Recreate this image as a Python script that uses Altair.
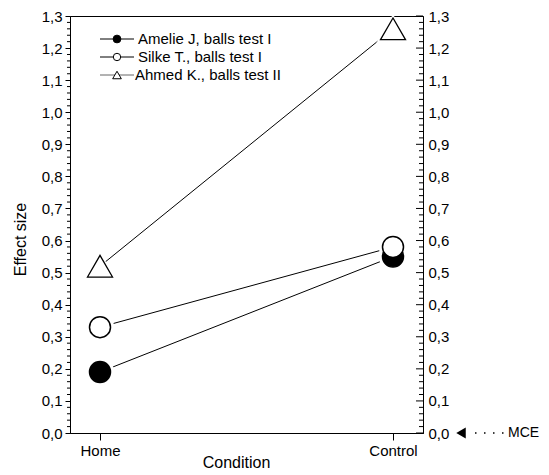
import altair as alt
import pandas as pd

# ---------------- data ----------------
conditions = ["Home", "Control"]
series_names = ["Amelie J, balls test I", "Silke T., balls test I", "Ahmed K., balls test II"]
amelie = [0.19, 0.55]
silke = [0.33, 0.58]
ahmed = [0.52, 1.26]
y_ticks = [0.0, 0.1, 0.2, 0.3, 0.4, 0.5, 0.6, 0.7, 0.8, 0.9, 1.0, 1.1, 1.2, 1.3]
minor_ticks = [round(t + k * 0.02, 2) for t in y_ticks[:-1] for k in (1, 2, 3, 4)]
mce_value = [0.0]
mce_label = ["MCE"]
x_title = "Condition"
y_title = "Effect size"

rows = []
for name, vals in zip(series_names, [amelie, silke, ahmed]):
    for c, v in zip(conditions, vals):
        rows.append({"series": name, "condition": c, "value": v})
df = pd.DataFrame(rows)

# ---------------- layout / style ----------------
W, H = 353, 417
FONT = "Liberation Sans"
LAB = 15
TIT = 16
label_expr = "replace(format(datum.value, '.1f'), '.', ',')"

yscale = alt.Scale(domain=[0, 1.3], nice=False, zero=False)
xscale = alt.Scale(type="point", domain=conditions, padding=0.1024)

x_enc = alt.X("condition:N", scale=xscale, sort=None,
              axis=alt.Axis(orient="bottom", labelAngle=0, tickSize=7, labelPadding=3,
                            labelFont=FONT, labelFontSize=LAB, title=x_title,
                            titleFont=FONT, titleFontSize=TIT, titleFontWeight="normal",
                            titleBaseline="alphabetic", titleY=34, titleX=166,
                            grid=False))

base = alt.Chart(df)

lines = base.mark_line(color="black", strokeWidth=1).encode(
    x=x_enc,
    y=alt.Y("value:Q", scale=yscale,
            axis=alt.Axis(orient="left", values=y_ticks, labelExpr=label_expr, tickSize=5,
                          labelPadding=3, labelFont=FONT, labelFontSize=LAB, title=y_title,
                          titleFont=FONT, titleFontSize=TIT, titleFontWeight="normal",
                          titlePadding=13, titleY=223, grid=False)),
    detail="series:N",
)

marker_style = {
    series_names[0]: dict(shape="circle", fill="black", size=441, halo=800, sw=1.5),
    series_names[1]: dict(shape="circle", fill="white", size=441, halo=800, sw=1.5),
    series_names[2]: dict(shape="triangle-up", fill="white", size=625, halo=1150, sw=1.3),
}

layers = [lines]
halos, markers = [], []
for name in series_names:
    st = marker_style[name]
    sub = base.transform_filter(alt.datum.series == name)
    halos.append(sub.mark_point(shape=st["shape"], filled=True, color="white", opacity=1,
                                size=st["halo"]).encode(
        x=x_enc, y=alt.Y("value:Q", scale=yscale, axis=None)))
    markers.append(sub.mark_point(shape=st["shape"], filled=False, fill=st["fill"],
                                  fillOpacity=1, stroke="black", strokeWidth=st["sw"],
                                  opacity=1, size=st["size"]).encode(
        x=x_enc, y=alt.Y("value:Q", scale=yscale, axis=None)))
layers += halos + markers

# right axis (labels only, ticks drawn inward below)
right_axis = base.mark_point(opacity=0).encode(
    x=x_enc,
    y=alt.Y("value:Q", scale=yscale,
            axis=alt.Axis(orient="right", values=y_ticks, labelExpr=label_expr, ticks=False,
                          labelPadding=5, labelFont=FONT, labelFontSize=LAB, title=None,
                          grid=False)),
)
layers.append(right_axis)

minor_df = pd.DataFrame({"v": minor_ticks})
major_df = pd.DataFrame({"v": y_ticks})
left_minor = alt.Chart(minor_df).mark_rule(color="black", strokeWidth=1).encode(
    y=alt.Y("v:Q", scale=yscale, axis=None), x=alt.value(-3), x2=alt.value(0))
right_major = alt.Chart(major_df).mark_rule(color="black", strokeWidth=1).encode(
    y=alt.Y("v:Q", scale=yscale, axis=None), x=alt.value(W - 7), x2=alt.value(W))
right_minor = alt.Chart(minor_df).mark_rule(color="black", strokeWidth=1).encode(
    y=alt.Y("v:Q", scale=yscale, axis=None), x=alt.value(W - 4), x2=alt.value(W))
layers += [left_minor, right_major, right_minor]

# legend (drawn inside plot)
leg_y = [23, 41, 59]
leg_text_x = [68, 68, 65]
leg_line_color = ["black", "black", "#666666"]
leg_marker = [("circle", "black", 60), ("circle", "white", 55), ("triangle-up", "white", 75)]
for i, name in enumerate(series_names):
    ldf = pd.DataFrame({"label": [name]})
    lc = alt.Chart(ldf)
    layers.append(lc.mark_rule(color=leg_line_color[i], strokeWidth=1).encode(
        x=alt.value(30), x2=alt.value(64), y=alt.value(leg_y[i])))
    shp, fill, sz = leg_marker[i]
    layers.append(lc.mark_point(shape=shp, fill=fill, fillOpacity=1, stroke="black",
                                strokeWidth=1, opacity=1, size=sz).encode(
        x=alt.value(47), y=alt.value(leg_y[i])))
    layers.append(lc.mark_text(align="left", baseline="middle", font=FONT, fontSize=LAB,
                               color="black").encode(
        x=alt.value(leg_text_x[i]), y=alt.value(leg_y[i]), text="label:N"))

# MCE annotation
mdf = pd.DataFrame({"v": mce_value, "label": mce_label})
mc = alt.Chart(mdf)
layers.append(mc.mark_point(shape="triangle-left", filled=True, color="black", opacity=1,
                            size=120).encode(
    x=alt.value(W + 38), y=alt.Y("v:Q", scale=yscale, axis=None)))
layers.append(mc.mark_rule(color="black", strokeWidth=1.5, strokeDash=[1.5, 7.5]).encode(
    x=alt.value(W + 52), x2=alt.value(W + 84), y=alt.Y("v:Q", scale=yscale, axis=None)))
layers.append(mc.mark_text(align="left", baseline="middle", font=FONT, fontSize=14,
                           color="black").encode(
    x=alt.value(W + 85), y=alt.Y("v:Q", scale=yscale, axis=None), text="label:N"))

chart = alt.layer(*layers).resolve_scale(y="independent").properties(
    width=W, height=H,
    padding={"left": 62, "top": 8, "right": 118, "bottom": 39},
    autosize=alt.AutoSizeParams(type="none"),
).configure_view(stroke="black", strokeWidth=1).configure_axis(
    domainColor="black", tickColor="black", labelColor="black", titleColor="black",
    domainWidth=1, tickWidth=1,
)

chart.save("out.html", embed_options={"renderer": "svg", "actions": False})
